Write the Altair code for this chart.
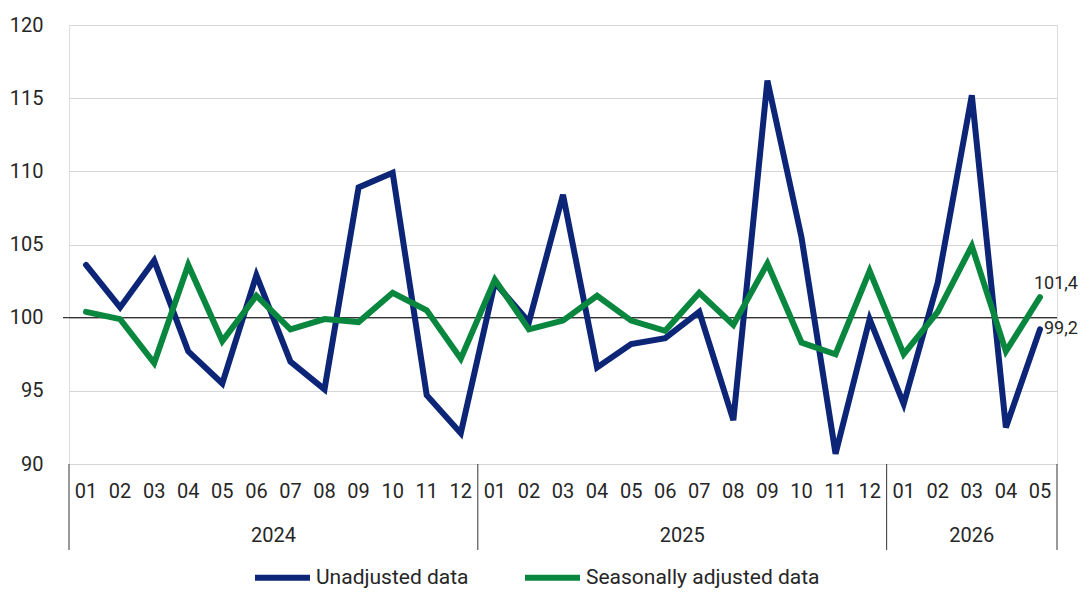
import altair as alt
import pandas as pd

# ---- data ----
months = ["01", "02", "03", "04", "05", "06", "07", "08", "09", "10", "11", "12",
          "01", "02", "03", "04", "05", "06", "07", "08", "09", "10", "11", "12",
          "01", "02", "03", "04", "05"]
years = ["2024"] * 12 + ["2025"] * 12 + ["2026"] * 5
unadjusted = [103.6, 100.7, 103.9, 97.7, 95.5, 102.9, 97.0, 95.1, 108.9, 109.9, 94.7, 92.1,
              102.4, 99.7, 108.4, 96.6, 98.2, 98.6, 100.4, 93.0, 116.2, 105.5, 90.7, 99.9,
              94.1, 102.4, 115.2, 92.5, 99.2]
seasonal = [100.4, 99.9, 96.9, 103.6, 98.4, 101.5, 99.2, 99.9, 99.7, 101.7, 100.5, 97.2,
            102.6, 99.2, 99.8, 101.5, 99.8, 99.1, 101.7, 99.5, 103.7, 98.3, 97.5, 103.2,
            97.5, 100.4, 104.9, 97.7, 101.4]
series_names = ["Unadjusted data", "Seasonally adjusted data"]
series_colors = ["#0c2577", "#0a873f"]
y_ticks = [90, 95, 100, 105, 110, 115, 120]
reference_value = 100

FONT = "Roboto"
TXT = "#262626"
W, H = 988, 439

n = len(months)
idx = list(range(n))

rows = []
for name, vals in zip(series_names, [unadjusted, seasonal]):
    for i, v in enumerate(vals):
        rows.append({"idx": i, "series": name, "value": v})
df = pd.DataFrame(rows)

month_df = pd.DataFrame({"idx": idx, "month": months, "year": years})
year_df = month_df.groupby("year", as_index=False).agg(mid=("idx", "mean"),
                                                        lo=("idx", "min"),
                                                        hi=("idx", "max"))
bounds = sorted(set([r - 0.5 for r in year_df["lo"]] + [r + 0.5 for r in year_df["hi"]]))
sep_df = pd.DataFrame({"pos": bounds})

end_df = pd.DataFrame({
    "idx": [n - 1, n - 1],
    "value": [seasonal[-1], unadjusted[-1]],
    "label": [f"{seasonal[-1]:.1f}".replace(".", ","), f"{unadjusted[-1]:.1f}".replace(".", ",")],
    "series": series_names[::-1],
})

xscale = alt.Scale(domain=[-0.5, n - 0.5], nice=False, zero=False)
yscale = alt.Scale(domain=[y_ticks[0], y_ticks[-1]], nice=False, zero=False)

y_axis = alt.Axis(values=y_ticks, title=None, domain=False, ticks=False,
                  labelPadding=26, labelFontSize=20, labelFont=FONT, labelColor=TXT,
                  grid=True, gridColor="#d6d6d6", gridWidth=1.2)

x_enc = alt.X("idx:Q", scale=xscale, axis=None)

ref = alt.Chart(pd.DataFrame({"v": [reference_value]})).mark_rule(
    color="#333333", strokeWidth=1.3
).encode(
    y=alt.Y("v:Q", scale=yscale, axis=y_axis),
    x=alt.value(-6), x2=alt.value(W),
)

lines = alt.Chart(df).mark_line(strokeWidth=6, strokeCap="round", strokeJoin="miter").encode(
    x=x_enc,
    y=alt.Y("value:Q", scale=yscale, axis=y_axis),
    color=alt.Color("series:N",
                    scale=alt.Scale(domain=series_names, range=series_colors),
                    sort=series_names,
                    legend=alt.Legend(title=None, orient="none", legendX=183, legendY=522,
                                      direction="horizontal", symbolType="stroke",
                                      symbolSize=3025, symbolStrokeWidth=6,
                                      labelFontSize=21, labelFont=FONT, labelColor=TXT,
                                      labelLimit=500, columnPadding=44, labelOffset=3)),
    detail="series:N",
)

month_text = alt.Chart(month_df).mark_text(
    fontSize=20, font=FONT, color=TXT, baseline="middle", align="center"
).encode(x=x_enc, y=alt.value(H + 28), text="month:N")

year_text = alt.Chart(year_df).mark_text(
    fontSize=20, font=FONT, color=TXT, baseline="middle", align="center"
).encode(x=alt.X("mid:Q", scale=xscale, axis=None), y=alt.value(H + 72), text="year:N")

seps = alt.Chart(sep_df).mark_rule(color="#333333", strokeWidth=1).encode(
    x=alt.X("pos:Q", scale=xscale, axis=None), y=alt.value(H), y2=alt.value(H + 86)
)

end_top = alt.Chart(end_df.iloc[[0]]).mark_text(
    fontSize=18, font=FONT, color=TXT, align="left", baseline="bottom", dx=-6, dy=-4
).encode(x=x_enc, y=alt.Y("value:Q", scale=yscale, axis=y_axis), text="label:N")

end_bot = alt.Chart(end_df.iloc[[1]]).mark_text(
    fontSize=18, font=FONT, color=TXT, align="left", baseline="middle", dx=4
).encode(x=x_enc, y=alt.Y("value:Q", scale=yscale, axis=y_axis), text="label:N")

chart = alt.layer(ref, lines, month_text, year_text, seps, end_top, end_bot).properties(
    width=W, height=H,
    padding={"left": 61, "top": 17, "right": 22, "bottom": 127},
    autosize=alt.AutoSizeParams(type="none"),
).configure_view(strokeWidth=0).configure(background="white")

chart.save("out.html", embed_options={"renderer": "svg", "actions": False})
